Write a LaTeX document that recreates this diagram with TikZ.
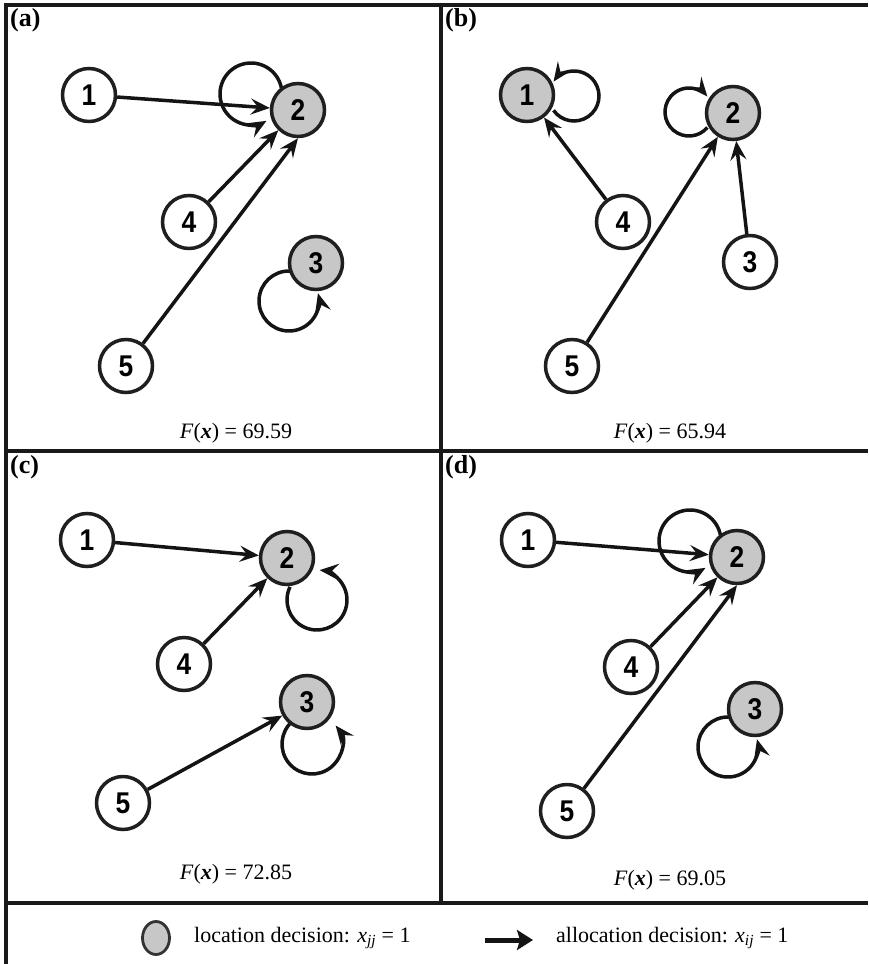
\documentclass[tikz,border=0pt]{standalone}
\usepackage{fontspec}
\setmainfont{Liberation Serif}
\newfontfamily\numfont[FakeStretch=0.88]{Liberation Sans}
\usetikzlibrary{arrows.meta,shapes.geometric}
\pgfdeclarelayer{bg}
\pgfsetlayers{bg,main}
\begin{document}
\begin{tikzpicture}[x=1pt,y=1pt,
  nd/.style={circle,draw=black!88,line width=3.5pt,minimum size=53pt,inner sep=0pt,fill=white,
    font=\numfont\bfseries\fontsize{30}{30}\selectfont},
  hub/.style={nd,fill=black!22},
  arr/.style={line width=3.5pt,-{Stealth[length=19pt,width=16pt,inset=7pt]},black!92},
  frame/.style={line width=3.2pt,black!90},
  plabel/.style={anchor=north west,inner sep=0pt,font=\bfseries\fontsize{26}{26}\selectfont},
  fval/.style={inner sep=0pt,font=\fontsize{22}{22}\selectfont},
  legsym/.style={ellipse,draw=black!80,line width=2.8pt,fill=black!22,minimum width=27pt,minimum height=33pt,inner sep=0pt},
  legarr/.style={line width=5pt,-{Stealth[length=16pt,width=20pt,inset=3pt]},black!92}
]
\useasboundingbox (0,0) rectangle (868,-964);

% frame
\draw[frame] (6,-964) -- (6,-5) -- (868,-5);
\draw[frame] (441,-5) -- (441,-903);
\draw[frame] (6,-451) -- (868,-451);
\draw[frame] (6,-903) -- (868,-903);

% panel labels
\node[plabel] (la) at (10,-8) {(a)};
\node[plabel] (lb) at (445,-8) {(b)};
\node[plabel] (lc) at (10,-455) {(c)};
\node[plabel] (ld) at (445,-455) {(d)};

% objective values
\node[fval] (fa) at (236,-433) {\textit{F}(\textbf{\textit{x}}) = 69.59};
\node[fval] (fb) at (670,-433) {\textit{F}(\textbf{\textit{x}}) = 65.94};
\node[fval] (fc) at (236,-874) {\textit{F}(\textbf{\textit{x}}) = 72.85};
\node[fval] (fd) at (670,-880) {\textit{F}(\textbf{\textit{x}}) = 69.05};

% (a)
\node[nd]  (a1) at (89,-95) {1};
\node[hub] (a2) at (298,-110) {2};
\node[nd]  (a4) at (189,-222) {4};
\node[hub] (a3) at (316,-263) {3};
\node[nd]  (a5) at (126,-366) {5};
% (b)
\node[hub] (b1) at (527,-95) {1};
\node[hub] (b2) at (733,-113) {2};
\node[nd]  (b4) at (623,-222) {4};
\node[nd]  (b3) at (750,-262) {3};
\node[nd]  (b5) at (572,-366) {5};
% (c)
\node[nd]  (c1) at (87,-540) {1};
\node[hub] (c2) at (287,-558) {2};
\node[nd]  (c4) at (184,-664) {4};
\node[hub] (c3) at (307,-702) {3};
\node[nd]  (c5) at (123,-803) {5};
% (d)
\node[nd]  (d1) at (528,-540) {1};
\node[hub] (d2) at (737,-557) {2};
\node[nd]  (d4) at (631,-667) {4};
\node[hub] (d3) at (755,-709) {3};
\node[nd]  (d5) at (567,-811) {5};

% legend
\node[legsym] (lg) at (156,-938) {};
\node[fval,anchor=west] (lt) at (194,-938) {location decision: \textit{x}\textsubscript{\textit{jj}} = 1};
\coordinate (lq0) at (485,-940);
\coordinate (lq1) at (533,-940);
\node[fval,anchor=west] (lu) at (556,-938) {allocation decision: \textit{x}\textsubscript{\textit{ij}} = 1};

\begin{pgfonlayer}{bg}
% (a)
\draw[arr] (a1) -- (a2);
\draw[arr] (a4) -- (a2);
\draw[arr] (a5) -- (a2.south);
\draw[arr] ([shift={(-47,16)}]a2.center) ++(10:31) arc[start angle=10,end angle=300,radius=31];
\draw[arr] ([shift={(-27,-38)}]a3.center) ++(88:30) arc[start angle=88,end angle=375,radius=30];
% (b)
\draw[arr] (b4) -- (b1);
\draw[arr] (b5) -- (b2);
\draw[arr] (b3) -- (b2);
\draw[arr] ([shift={(47,-1)}]b1.center) ++(-145:25) arc[start angle=-145,end angle=145,radius=25];
\draw[arr] ([shift={(-44,1)}]b2.center) ++(-40:24) arc[start angle=-40,end angle=-320,radius=24];
% (c)
\draw[arr] (c1) -- (c2);
\draw[arr] (c4) -- (c2);
\draw[arr] (c5) -- (c3);
\draw[arr] ([shift={(30,-42)}]c2.center) ++(154:30) arc[start angle=154,end angle=445,radius=30];
\draw[arr] ([shift={(5,-42)}]c3.center) ++(130:30) arc[start angle=130,end angle=398,radius=30];
% (d)
\draw[arr] (d1) -- (d2);
\draw[arr] (d4) -- (d2);
\draw[arr] (d5) -- (d2.south);
\draw[arr] ([shift={(-47,16)}]d2.center) ++(10:31) arc[start angle=10,end angle=300,radius=31];
\draw[arr] ([shift={(-27,-38)}]d3.center) ++(88:30) arc[start angle=88,end angle=375,radius=30];
% legend arrow
\draw[legarr] (lq0) -- (lq1);
\end{pgfonlayer}
\end{tikzpicture}
\end{document}
